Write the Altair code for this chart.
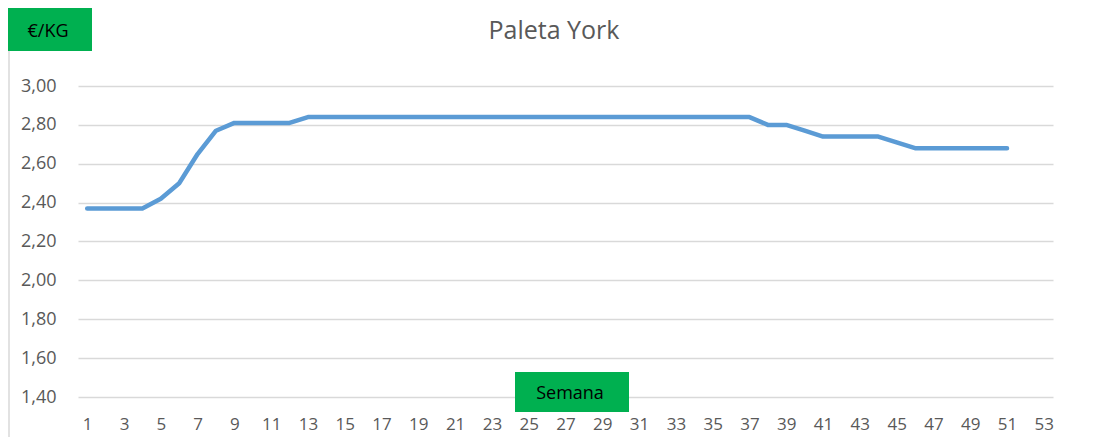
import altair as alt
import pandas as pd

weeks = list(range(1, 52))
prices = [2.37, 2.37, 2.37, 2.37, 2.42, 2.50, 2.65, 2.77, 2.81, 2.81,
          2.81, 2.81, 2.84, 2.84, 2.84, 2.84, 2.84, 2.84, 2.84, 2.84,
          2.84, 2.84, 2.84, 2.84, 2.84, 2.84, 2.84, 2.84, 2.84, 2.84,
          2.84, 2.84, 2.84, 2.84, 2.84, 2.84, 2.84, 2.80, 2.80, 2.77,
          2.74, 2.74, 2.74, 2.74, 2.71, 2.68, 2.68, 2.68, 2.68, 2.68,
          2.68]
all_weeks = list(range(1, 54))
x_tick_labels = list(range(1, 54, 2))
y_ticks = [1.4, 1.6, 1.8, 2.0, 2.2, 2.4, 2.6, 2.8, 3.0]
title_text = "Paleta York"
y_label = "€/KG"
x_label = "Semana"

df = pd.DataFrame({"semana": weeks, "precio": prices})

FONT = "Open Sans"
GRAY = "#595959"
GREEN = "#00B050"
W, H = 975, 311

line = alt.Chart(df).mark_line(
    color="#5B9BD5", strokeWidth=4.5, strokeCap="round", strokeJoin="round"
).encode(
    x=alt.X("semana:O", scale=alt.Scale(domain=all_weeks, type="point", padding=0.5),
            axis=alt.Axis(values=x_tick_labels, title=None, labelAngle=0, ticks=False,
                          domain=False, grid=False, labelFont=FONT, labelFontSize=17,
                          labelColor=GRAY, labelPadding=19)),
    y=alt.Y("precio:Q", scale=alt.Scale(domain=[1.4, 3.0], nice=False, zero=False),
            axis=alt.Axis(values=y_ticks, title=None, ticks=False, domain=False,
                          grid=True, gridColor="#D9D9D9", gridWidth=1.5,
                          labelFont=FONT, labelFontSize=18, labelColor=GRAY,
                          labelPadding=22,
                          labelExpr="replace(format(datum.value, '.2f'), '.', ',')")),
)

border_df = pd.DataFrame({"k": [0]})
border = alt.Chart(border_df).mark_rule(color="#D9D9D9", strokeWidth=1.5).encode(
    x=alt.value(-69), y=alt.value(-78), y2=alt.value(355)
)

box_df = pd.DataFrame({"label": [y_label]})
ybox = alt.Chart(box_df).mark_rect(color=GREEN).encode(
    x=alt.value(-70), x2=alt.value(14), y=alt.value(-78), y2=alt.value(-35)
)
ytext = alt.Chart(box_df).mark_text(font=FONT, fontSize=18, color="black",
                                    baseline="middle", align="center").encode(
    x=alt.value(-30), y=alt.value(-54), text="label:N"
)
xbox_df = pd.DataFrame({"label": [x_label]})
xbox = alt.Chart(xbox_df).mark_rect(color=GREEN).encode(
    x=alt.value(437), x2=alt.value(551), y=alt.value(286), y2=alt.value(326)
)
xtext = alt.Chart(xbox_df).mark_text(font=FONT, fontSize=18, color="black",
                                     baseline="middle", align="center").encode(
    x=alt.value(492), y=alt.value(308), text="label:N"
)
title_df = pd.DataFrame({"label": [title_text]})
title = alt.Chart(title_df).mark_text(font=FONT, fontSize=25, color=GRAY,
                                      baseline="middle", align="center").encode(
    x=alt.value(476), y=alt.value(-55), text="label:N"
)

chart = alt.layer(line, border, ybox, ytext, xbox, xtext, title).properties(
    width=W, height=H,
    background="white",
    autosize=alt.AutoSizeParams(type="none"),
    padding={"left": 70, "top": 78, "right": 20, "bottom": 40},
).configure_view(stroke=None)

chart.save("out.html", embed_options={"renderer": "svg", "actions": False})
